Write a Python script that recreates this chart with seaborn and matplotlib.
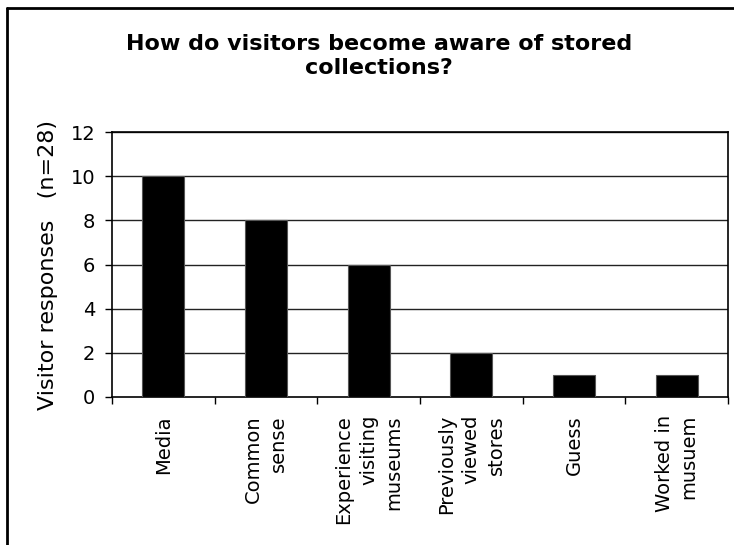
import matplotlib
matplotlib.use("Agg")
import matplotlib.pyplot as plt
import seaborn as sns
import pandas as pd
from matplotlib.lines import Line2D
from matplotlib.ticker import FixedLocator

categories = ["Media", "Common\nsense", "Experience\nvisiting\nmuseums",
              "Previously\nviewed\nstores", "Guess", "Worked in\nmusuem"]
responses = [10, 8, 6, 2, 1, 1]
y_ticks = [0, 2, 4, 6, 8, 10, 12]
title = "How do visitors become aware of stored\ncollections?"
y_label = "Visitor responses   (n=28)"

sns.set_theme(style="white")
plt.rcParams['font.family'] = ['DejaVu Sans']
plt.rcParams['text.color'] = 'black'
plt.rcParams['axes.labelcolor'] = 'black'
plt.rcParams['xtick.color'] = 'black'
plt.rcParams['ytick.color'] = 'black'

df = pd.DataFrame({"cat": categories, "val": responses})

W, H = 734, 545
fig = plt.figure(figsize=(W / 100, H / 100), dpi=100)
ax = fig.add_axes([112 / W, 1 - 397 / H, (728 - 112) / W, (397 - 132) / H])

sns.barplot(data=df, x="cat", y="val", color="black", width=0.41,
            edgecolor="#555555", linewidth=0.8, saturation=1, ax=ax, zorder=3)

ax.set_xlim(-0.5, len(categories) - 0.5)
ax.set_ylim(0, 12)
ax.set_yticks(y_ticks)
ax.set_yticklabels([str(v) for v in y_ticks])
for v in y_ticks[1:]:
    ax.axhline(v, color="#222222", lw=1.0, zorder=1)

# x: ticks at category boundaries, labels at centers
ax.xaxis.set_major_locator(FixedLocator([i - 0.5 for i in range(len(categories) + 1)]))
ax.xaxis.set_minor_locator(FixedLocator(list(range(len(categories)))))
ax.set_xticklabels([], minor=False)
ax.set_xticklabels(categories, minor=True, rotation=90, ha="center", va="top",
                   multialignment="right", linespacing=1.4, fontsize=14)
ax.tick_params(axis="x", which="major", length=5, width=1, color="black",
               direction="out", bottom=True)
ax.tick_params(axis="x", which="minor", length=0, pad=13, bottom=True)
ax.tick_params(axis="y", length=5, width=1, color="black", direction="out",
               left=True, pad=7, labelsize=14)
ax.set_xlabel("")
ax.set_ylabel(y_label, fontsize=16, labelpad=9)

for s in ["left", "bottom", "right", "top"]:
    ax.spines[s].set_visible(True)
    ax.spines[s].set_color("black")
    ax.spines[s].set_linewidth(1.2)

fig.text(379 / W, 1 - 34 / H, title, ha="center", va="top",
         fontsize=16, fontweight="bold", linespacing=1.25)

# chart-area border (left and top visible, cropped elsewhere)
fig.add_artist(Line2D([7 / W, 7 / W], [0, 1 - 8 / H], transform=fig.transFigure,
                      color="black", lw=2))
fig.add_artist(Line2D([7 / W, 1.0], [1 - 8 / H, 1 - 8 / H], transform=fig.transFigure,
                      color="black", lw=2))

fig.savefig("out.png", dpi=100, facecolor="white")
